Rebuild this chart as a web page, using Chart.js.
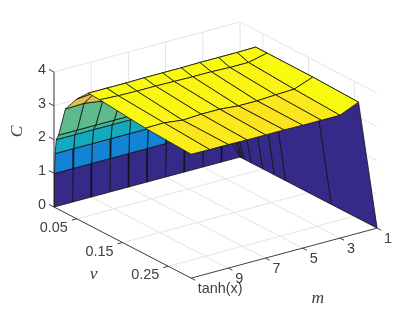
<!DOCTYPE html>
<html>
<head>
<meta charset="utf-8">
<title>C surface</title>
<script src="https://cdn.jsdelivr.net/npm/chart.js@4"></script>
<style>
    html, body { margin: 0; padding: 0; background: #fff; }
    canvas { display: block; }
</style>
</head>
<body>
<canvas id="surface-chart" width="415" height="312"></canvas>
<script>
// grid of the surface
const mValues = [1, 2, 3, 4, 5, 6, 7, 8, 9, 10, 11];
const vValues = [0, 0.001, 0.0025, 0.005, 0.01, 0.025, 0.05, 0.075, 0.1, 0.2, 0.3];

// C, one list per m, same order as vValues
const cM1 = [0, 0, 0, 0, 0, 0, 0, 0, 0, 0, 0];
const cM2 = [0, 1.0, 1.6, 2.03, 2.2, 2.95, 3.5, 3.93, 3.93, 3.92, 3.88];
const cM3 = [0, 1.0, 1.6, 2.03, 2.2, 2.95, 3.5, 3.92, 3.80, 3.71, 3.64];
const cM4 = [0, 1.0, 1.6, 2.03, 2.2, 2.95, 3.5, 3.92, 3.80, 3.69, 3.64];
const cM5 = [0, 1.0, 1.6, 2.03, 2.2, 2.95, 3.5, 3.92, 3.82, 3.66, 3.64];
const cM6 = [0, 1.0, 1.6, 2.03, 2.2, 2.97, 3.5, 3.91, 3.82, 3.66, 3.65];
const cM7 = [0, 1.0, 1.6, 2.03, 2.2, 2.98, 3.52, 3.91, 3.83, 3.71, 3.65];
const cM8 = [0, 1.0, 1.6, 2.03, 2.2, 3.0, 3.52, 3.91, 3.84, 3.71, 3.65];
const cM9 = [0, 1.0, 1.6, 2.03, 2.2, 3.02, 3.6, 3.9, 3.84, 3.68, 3.66];
const cM10 = [0, 1.0, 1.6, 2.03, 2.2, 3.1, 3.6, 3.9, 3.85, 3.75, 3.66];
const cM11 = [0, 1.0, 1.6, 2.03, 2.2, 3.08, 3.55, 3.9, 3.88, 3.74, 3.67];
const cRows = [cM1, cM2, cM3, cM4, cM5, cM6, cM7, cM8, cM9, cM10, cM11];

// ticks
const cTicks = [0, 1, 2, 3, 4];
const vTicks = [0.05, 0.15, 0.25];
const mTicks = [1, 3, 5, 7, 9, 11];
const mTickLabels = ['1', '3', '5', '7', '9', 'tanh(x)'];

const mLimits = [1, 11];
const vLimits = [0, 0.3];
const cLimits = [0, 4];
const colorMax = 3.88;

// orthographic view, worked out from the axis corners
function project(m, v, c) {
    return {
        x: 240 - 18.6 * (m - 1) + 457 * v,
        y: 157 + 5 * (m - 1) + 237 * v - 33.75 * c
    };
}

// parula
const parula = ['#352a87', '#0f5cdd', '#1481d6', '#06a4ca', '#2eb7a4', '#87bf77', '#d1bb59', '#fec832', '#f9fb0e'];

function parulaColor(c) {
    let t = Math.min(Math.max(c / colorMax, 0), 1) * (parula.length - 1);
    let i = Math.min(Math.floor(t), parula.length - 2);
    let f = t - i;
    let rgb = [1, 3, 5].map(k => {
        let a = parseInt(parula[i].substr(k, 2), 16);
        let b = parseInt(parula[i + 1].substr(k, 2), 16);
        return Math.round(a + (b - a) * f);
    });
    return `rgb(${rgb.join(',')})`;
}

let datasets = [];

function addLine(points, color, width) {
    datasets.push({
        data: points,
        showLine: true,
        borderColor: color,
        borderWidth: width,
        pointRadius: 0,
        fill: false,
        tension: 0,
        order: -datasets.length
    });
}

function addSegment(a, b, color, width) {
    addLine([project(a[0], a[1], a[2]), project(b[0], b[1], b[2])], color, width);
}

// back walls and floor grid
const gridColor = '#e4e4e4';
cTicks.forEach(c => {
    addSegment([mLimits[1], vLimits[0], c], [mLimits[0], vLimits[0], c], gridColor, 1);
    addSegment([mLimits[0], vLimits[0], c], [mLimits[0], vLimits[1], c], gridColor, 1);
});
mTicks.forEach(m => {
    addSegment([m, vLimits[0], cLimits[0]], [m, vLimits[0], cLimits[1]], gridColor, 1);
    addSegment([m, vLimits[0], cLimits[0]], [m, vLimits[1], cLimits[0]], gridColor, 1);
});
vTicks.forEach(v => {
    addSegment([mLimits[0], v, cLimits[0]], [mLimits[0], v, cLimits[1]], gridColor, 1);
    addSegment([mLimits[0], v, cLimits[0]], [mLimits[1], v, cLimits[0]], gridColor, 1);
});

// axes
const axisColor = '#404040';
addSegment([mLimits[1], vLimits[0], cLimits[0]], [mLimits[1], vLimits[0], cLimits[1]], axisColor, 1);
addSegment([mLimits[1], vLimits[0], cLimits[0]], [mLimits[1], vLimits[1], cLimits[0]], axisColor, 1);
addSegment([mLimits[1], vLimits[1], cLimits[0]], [mLimits[0], vLimits[1], cLimits[0]], axisColor, 1);
// tick marks lean along the other floor axis
cTicks.forEach(c => addSegment([mLimits[1], vLimits[0], c], [mLimits[1], vLimits[0] - 0.011, c], axisColor, 1));
vTicks.forEach(v => addSegment([mLimits[1], v, cLimits[0]], [mLimits[1] + 0.27, v, cLimits[0]], axisColor, 1));
mTicks.forEach(m => addSegment([m, vLimits[1], cLimits[0]], [m, vLimits[1] + 0.009, cLimits[0]], axisColor, 1));

// surface, far cells first, coloured from the first corner like a flat shaded surf
for (let i = 0; i < mValues.length - 1; i++) {
    for (let j = 0; j < vValues.length - 1; j++) {
        let corners = [
            project(mValues[i], vValues[j], cRows[i][j]),
            project(mValues[i + 1], vValues[j], cRows[i + 1][j]),
            project(mValues[i + 1], vValues[j + 1], cRows[i + 1][j + 1]),
            project(mValues[i], vValues[j + 1], cRows[i][j + 1])
        ];
        corners.push(corners[0]);
        datasets.push({
            data: corners,
            showLine: true,
            borderColor: '#111111',
            borderWidth: 0.8,
            backgroundColor: parulaColor(cRows[i][j]),
            pointRadius: 0,
            fill: 'shape',
            tension: 0,
            order: -datasets.length
        });
    }
}

// tick and axis labels, canvas text placed through the chart scales
const axisText = {
    id: 'axisText',
    afterDraw(chart) {
        let ctx = chart.ctx;
        let sx = chart.scales.x;
        let sy = chart.scales.y;
        let put = (text, p, dx, dy, font, align, rotate) => {
            ctx.save();
            ctx.translate(sx.getPixelForValue(p.x) + dx, sy.getPixelForValue(p.y) + dy);
            if (rotate) ctx.rotate(rotate);
            ctx.font = font;
            ctx.fillStyle = '#404040';
            ctx.textAlign = align;
            ctx.textBaseline = 'middle';
            ctx.fillText(text, 0, 0);
            ctx.restore();
        };
        const tickFont = '14.4px "Liberation Sans"';
        const labelFont = 'italic 17.5px "Liberation Serif"';
        cTicks.forEach(c => put(String(c), project(mLimits[1], vLimits[0], c), -8, -2, tickFont, 'right'));
        vTicks.forEach(v => put(v.toFixed(2), project(mLimits[1], v, cLimits[0]), -23, 9, tickFont, 'center'));
        mTicks.forEach((m, i) => {
            let dx = i === mTicks.length - 1 ? 29 : 11;
            let dy = i === mTicks.length - 1 ? 11 : 10.5;
            put(mTickLabels[i], project(m, vLimits[1], cLimits[0]), dx, dy, tickFont, 'center');
        });
        put('C', project(mLimits[1], vLimits[0], 2), -37, -8, labelFont, 'center', -Math.PI / 2);
        put('v', project(mLimits[1], 0.15, cLimits[0]), -29, 32, labelFont, 'center');
        put('m', project(5, vLimits[1], cLimits[0]), 15, 50, labelFont, 'center');
    }
};

new Chart(document.getElementById('surface-chart').getContext('2d'), {
    type: 'scatter',
    data: { datasets: datasets },
    options: {
        responsive: false,
        animation: false,
        layout: { padding: 0 },
        plugins: {
            legend: { display: false },
            title: { display: false },
            tooltip: { enabled: false }
        },
        scales: {
            x: { type: 'linear', min: 0, max: 415, display: false },
            y: { type: 'linear', min: 0, max: 312, reverse: true, display: false }
        }
    },
    plugins: [axisText]
});
</script>
</body>
</html>
